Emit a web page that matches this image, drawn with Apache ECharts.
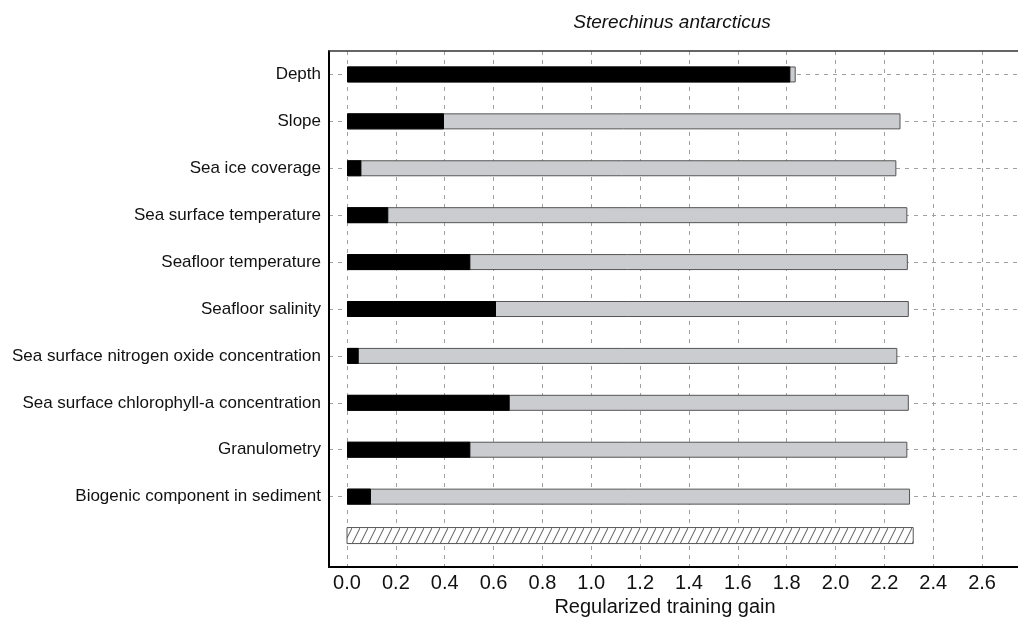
<!DOCTYPE html>
<html><head><meta charset="utf-8">
<script src="https://cdn.jsdelivr.net/npm/echarts@6/dist/echarts.min.js"></script>
<style>html,body{margin:0;padding:0;background:#fff}#c{width:1018px;height:618px}</style>
</head><body><div id="c"></div>
<script>
// ---- data ----
const titleText = 'Sterechinus antarcticus';
const categories = ['Depth', 'Slope', 'Sea ice coverage', 'Sea surface temperature',
  'Seafloor temperature', 'Seafloor salinity', 'Sea surface nitrogen oxide concentration',
  'Sea surface chlorophyll-a concentration', 'Granulometry', 'Biogenic component in sediment'];
const onlyGain = [1.815, 0.397, 0.059, 0.169, 0.505, 0.610, 0.048, 0.666, 0.505, 0.098];
const withoutGain = [1.837, 2.266, 2.249, 2.294, 2.296, 2.300, 2.253, 2.300, 2.294, 2.305];
const allGain = 2.318;
const xTicks = [0, 0.2, 0.4, 0.6, 0.8, 1.0, 1.2, 1.4, 1.6, 1.8, 2.0, 2.2, 2.4, 2.6];
const xAxisName = 'Regularized training gain';

// ---- layout / style ----
const FONT = "'Liberation Sans', Arial, Helvetica, sans-serif";
const allRowPos = 9.83;
const barH = 16;
const rowIdx = categories.map((_, i) => i);

const pat = document.createElement('canvas');
pat.width = 8; pat.height = 16;
(function () {
  const g = pat.getContext('2d');
  g.fillStyle = '#ffffff'; g.fillRect(0, 0, 8, 16);
  g.strokeStyle = '#555555'; g.lineWidth = 1;
  g.beginPath(); g.moveTo(-2, 20); g.lineTo(10, -4); g.stroke();
})();

const chart = echarts.init(document.getElementById('c'), null, {renderer: 'canvas'});
const dash = {color: '#a0a0a0', width: 1, type: [4, 5]};
chart.setOption({
  animation: false,
  backgroundColor: '#ffffff',
  title: {
    text: titleText, left: 667, top: 8, textAlign: 'center',
    textStyle: {fontFamily: FONT, fontSize: 19, fontStyle: 'italic', fontWeight: 'normal', color: '#111'}
  },
  grid: {left: 329, right: 0, top: 51, bottom: 51, containLabel: false, outerBoundsMode: 'none'},
  xAxis: [{
    type: 'value', min: -0.0737, max: 2.747, position: 'bottom',
    axisLine: {show: true, onZero: false, lineStyle: {color: '#000', width: 2}},
    axisTick: {show: false, customValues: xTicks},
    axisLabel: {customValues: xTicks, formatter: v => v.toFixed(1), fontFamily: FONT, fontSize: 20, color: '#111', margin: 6},
    splitLine: {show: true, lineStyle: dash},
    name: xAxisName, nameLocation: 'middle', nameGap: 29,
    nameTextStyle: {fontFamily: FONT, fontSize: 20, color: '#111', padding: [0, 17, 0, 0]}
  }, {
    type: 'value', min: -0.0737, max: 2.747, position: 'top',
    axisLine: {show: true, onZero: false, lineStyle: {color: '#333', width: 1.5}},
    axisTick: {show: false}, axisLabel: {show: false}, splitLine: {show: false}
  }],
  yAxis: [{
    type: 'category', inverse: true, data: categories.concat(['']), position: 'left',
    axisLine: {show: true, onZero: false, lineStyle: {color: '#000', width: 2}},
    axisTick: {show: false},
    axisLabel: {fontFamily: FONT, fontSize: 17, color: '#111', margin: 8},
    splitLine: {show: false}
  }, {
    type: 'value', inverse: true, min: -0.5, max: 10.5, position: 'right',
    axisLine: {show: false, onZero: false}, axisTick: {show: false, customValues: rowIdx},
    axisLabel: {show: false, customValues: rowIdx},
    splitLine: {show: true, lineStyle: dash}
  }],
  series: [{
    type: 'bar', name: 'Without variable', xAxisIndex: 0, yAxisIndex: 0,
    data: withoutGain, barWidth: barH, barGap: '-100%',
    itemStyle: {color: '#cbccd0', borderColor: '#555', borderWidth: 1}
  }, {
    type: 'bar', name: 'With only variable', xAxisIndex: 0, yAxisIndex: 0,
    data: onlyGain, barWidth: barH, barGap: '-100%',
    itemStyle: {color: '#000', borderColor: '#000', borderWidth: 1}
  }, {
    type: 'custom', name: 'With all variables', xAxisIndex: 0, yAxisIndex: 1,
    data: [[allGain, allRowPos]],
    renderItem: function (params, api) {
      const y = api.value(1);
      const p0 = api.coord([0, y]);
      const p1 = api.coord([api.value(0), y]);
      return {
        type: 'rect',
        shape: {x: p0[0], y: p0[1] - barH / 2, width: p1[0] - p0[0], height: barH},
        style: {fill: {image: pat, repeat: 'repeat'}, stroke: '#555', lineWidth: 1}
      };
    }
  }]
});
</script></body></html>
